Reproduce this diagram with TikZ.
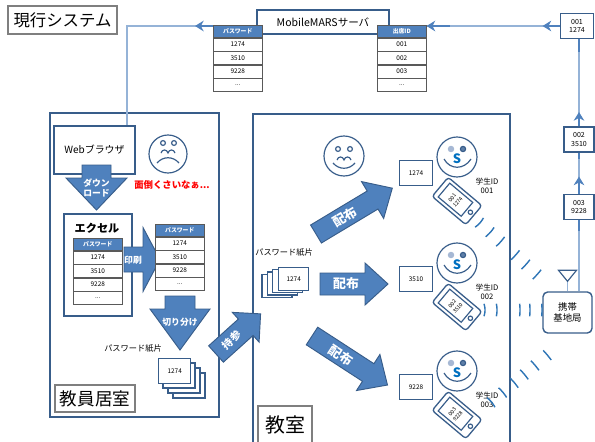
\documentclass[tikz,border=0pt]{standalone}
\usepackage{fontspec}
\setmainfont{Noto Sans CJK JP}
\usetikzlibrary{positioning,arrows.meta,calc}

\definecolor{frameblue}{RGB}{56,93,138}
\definecolor{fillblue}{RGB}{79,129,189}
\definecolor{lineblue}{RGB}{149,179,215}
\definecolor{waveblue}{RGB}{46,117,182}
\definecolor{boxgray}{RGB}{127,127,127}
\definecolor{gridgray}{RGB}{89,89,89}
\definecolor{sblue}{RGB}{0,112,192}
\definecolor{eyelight}{RGB}{166,184,212}
\definecolor{eyedark}{RGB}{95,127,168}

\newcommand{\blockarrow}[6]{%
  \begin{scope}[shift={#1},rotate=#2]
    \draw[bigarrow] (0,-#4) -- ({#3-#6},-#4) -- ({#3-#6},-#5) -- (#3,0)
      -- ({#3-#6},#5) -- ({#3-#6},#4) -- (0,#4) -- cycle;
  \end{scope}}

\newcommand{\pwtable}[6]{%
  \node[thead,anchor=north west] (#1h) at #2 {#3};
  \node[tcell,below=0pt of #1h] (#1a) {#4};
  \node[tcell,below=0pt of #1a] (#1b) {#5};
  \node[tcell,below=0pt of #1b] (#1c) {#6};
  \node[tcell,below=0pt of #1c] (#1d) {...};}

\newcommand{\wave}[4]{%
  \draw[radio,domain=#3-360/#4:#3+360/#4,samples=9,smooth,variable=\t]
    plot ({#1+#4*cos(\t)},{#2+#4*sin(\t)});}

\begin{document}
\begin{tikzpicture}[x=0.03cm,y=-0.03cm,
    boxsize/.style 2 args={minimum width={#1*0.03cm},minimum height={#2*0.03cm},inner sep=0pt},
    darkframe/.style={draw=frameblue,line width=1.6pt,fill=white},
    labelbox/.style={draw=boxgray,line width=1.1pt,fill=white},
    tagbox/.style={darkframe,boxsize={30}{25},align=center,font=\fontsize{6}{7.5}\selectfont},
    thead/.style={draw=gridgray,line width=0.5pt,fill=fillblue,text=white,boxsize={49}{12},font=\bfseries\fontsize{5}{5}\selectfont},
    tcell/.style={draw=gridgray,line width=0.5pt,fill=white,boxsize={49}{13},font=\fontsize{5.5}{5.5}\selectfont},
    bigarrow/.style={fill=fillblue,draw=frameblue,line width=0.8pt},
    arrowtext/.style={text=white,align=center,font=\bfseries\fontsize{7.5}{9}\selectfont},
    handout/.style={arrowtext,font=\bfseries\fontsize{11}{11}\selectfont},
    feedline/.style={draw=lineblue,line width=1pt},
    stub/.style={draw=fillblue,line width=2.2pt},
    stubtip/.style={-{Stealth[length=2.6mm,width=3.2mm]}},
    paper/.style={draw=frameblue,line width=1.2pt,fill=white},
    card/.style={draw=frameblue,line width=1.6pt,fill=white,boxsize={33}{25},font=\fontsize{5.5}{6}\selectfont},
    radio/.style={draw=waveblue,line width=1.2pt},
    facering/.style={draw=frameblue,line width=1pt},
    idlabel/.style={align=center,font=\fontsize{6.5}{8}\selectfont},
    phonetext/.style={align=center,font=\fontsize{4.5}{6}\selectfont},
    sadface/.pic={
      \draw[facering,fill=white] (0,0) circle (19);
      \draw[facering] (-5,-11) circle (2.4) (6,-11) circle (2.4);
      \draw[facering] (-7,-1) .. controls (-6,-5) and (-1,-5) .. (0,-1)
        .. controls (1,-5) and (6,-5) .. (7,-1);
      \draw[facering] (-11,9) .. controls (-5,2) and (5,2) .. (11,9);
    },
    calmface/.pic={
      \draw[facering,fill=white] (0,0) circle (20);
      \draw[facering] (-6,-7) circle (2.4) (6,-7) circle (2.4);
      \draw[facering] (-7,4) .. controls (-6,0) and (-1,0) .. (0,4)
        .. controls (1,0) and (6,0) .. (7,4);
      \draw[facering] (-11,7) .. controls (-5,14) and (5,14) .. (11,7);
    },
    happyface/.pic={
      \draw[facering,fill=white] (0,0) circle (20);
      \draw[facering,fill=eyelight,draw=eyelight] (-6,-8) circle (2.6);
      \draw[facering,fill=eyedark] (6,-8) circle (2.6);
      \draw[facering] (-13,2) .. controls (-7,13) and (7,13) .. (14,2);
      \node[text=sblue,font=\bfseries\fontsize{11}{11}\selectfont] (-s) at (0,2) {S};
    },
    phone/.pic={
      \draw[facering,line width=1.1pt,fill=white,rounded corners=2.5pt] (-22,-12.5) rectangle (22,12.5);
      \draw[facering] (-17,-9) rectangle (13,9);
      \draw[facering] (17.5,0) circle (2.2);
    },
  ]
  \useasboundingbox (0,0) rectangle (595,441);
  \clip (0,0) rectangle (595,441);

  \node[darkframe,boxsize={169}{304},anchor=north west] (office) at (49,112) {};
  \node[darkframe,boxsize={257}{345},anchor=north west] (classroom) at (252,113) {};

  \node[labelbox,boxsize={109}{28},font=\fontsize{14}{14}\selectfont] (title) at (62.5,20) {現行システム};
  \node[darkframe,boxsize={132}{24},font=\fontsize{9}{9}\selectfont] (server) at (323,22) {MobileMARSサーバ};
  \pwtable{pwsrv}{(213,25)}{パスワード}{1274}{3510}{9228}
  \pwtable{idsrv}{(377,25)}{出席ID}{001}{002}{003}

  \node[tagbox,boxsize={33}{25}] (id001) at (577,26) {001\\1274};
  \node[tagbox] (id002) at (579,139.5) {002\\3510};
  \node[tagbox] (id003) at (579,207) {003\\9228};
  \node[darkframe,line width=1.2pt,rounded corners=4pt,boxsize={49}{41},align=center,
    font=\fontsize{8}{10}\selectfont] (base) at (567.5,312.5) {携帯\\基地局};
  \coordinate (mast) at ($(base.north)+(0,-10)$);
  \draw[feedline] (base.north) -- (mast);
  \draw[frameblue,line width=1pt,fill=white] ($(mast)+(-9,-11)$) -- ($(mast)+(9,-11)$) -- (mast) -- cycle;

  \node[darkframe,boxsize={81}{48},font=\fontsize{8.5}{9}\selectfont] (web) at (94.5,150) {Webブラウザ};

  \draw[feedline] (pwsrvh.north west |- id001.west) -| ($(web.north east)+(-9,0)$);
  \draw[stub,stubtip] (pwsrvh.north west |- id001.west) -- ++(-18,0);
  \draw[feedline] (id001.west) -- (idsrvh.north east |- id001.west);
  \draw[stub,stubtip] ($(idsrvh.north east |- id001.west)+(23,0)$) -- (idsrvh.north east |- id001.west);
  \draw[stub,stubtip] (id001.west) -- ++(-17,0);
  \draw[feedline] (id002.north) -- (id002.north |- id001.south);
  \draw[stub] (id002.north |- id001.south) -- ++(0,13);
  \draw[stub,stubtip] (id002.north) -- ++(0,-14);
  \draw[feedline] (id003.north) -- (id002.south);
  \draw[stub] (id002.south) -- ++(0,6);
  \draw[stub,stubtip] (id003.north) -- ++(0,-17);
  \draw[feedline] (id003.south) -- (id003.south |- base.north);
  \draw[stub] (id003.south) -- ++(0,11);

  \pic at (168,154) {sadface};
  \node[text=red,font=\bfseries\fontsize{8}{9}\selectfont] (grumble) at (172,185) {面倒くさいなぁ...};
  \blockarrow{(96.5,165)}{-90}{45}{14.5}{30.5}{32}
  \node[arrowtext] (dl) at (96.5,188) {ダウン\\ロード};

  \node[darkframe,boxsize={68}{102},anchor=north west] (excel) at (63,213) {};
  \node[font=\bfseries\fontsize{9.5}{10}\selectfont] (exceltitle) at (97,228) {エクセル};
  \pwtable{pwxl}{(73,238)}{パスワード}{1274}{3510}{9228}
  \blockarrow{(124,259.5)}{0}{36}{12.5}{32}{17}
  \node[arrowtext] (prt) at (133,260) {印刷};
  \pwtable{pwprn}{(155,224)}{パスワード}{1274}{3510}{9228}

  \blockarrow{(180,296)}{-90}{54}{15}{30}{41}
  \node[arrowtext] (cut) at (180,322) {切り分け};
  \node[font=\fontsize{7}{8}\selectfont] (sliplbl) at (133,348) {パスワード紙片};
  \foreach \d in {15,10,5} {\draw[paper] (158+\d,358+\d) rectangle +(32,25);}
  \node[paper,boxsize={32}{25},font=\fontsize{5.5}{6}\selectfont,anchor=north west] (slip) at (158,358) {1274};
  \node[labelbox,boxsize={80}{27},font=\fontsize{15}{15}\selectfont] (officelbl) at (95,398.5) {教員居室};

  \blockarrow{(216,354)}{42}{60}{11}{20}{20}
  \node[arrowtext,rotate=42,font=\bfseries\fontsize{9}{9}\selectfont] (carry) at (232,340) {持参};

  \pic at (344,156) {calmface};
  \node[font=\fontsize{7}{8}\selectfont] (sliplbl2) at (284,252) {パスワード紙片};
  \foreach \d in {3,2,1} {\draw[paper] (278-5.3*\d,267+2.4*\d) rectangle +(30,23);}
  \node[paper,boxsize={30}{23},font=\fontsize{5.5}{6}\selectfont,anchor=north west] (slip2) at (278,267) {1274};
  \node[labelbox,boxsize={54}{38},font=\fontsize{17}{17}\selectfont] (classlbl) at (285,425) {教室};

  \blockarrow{(316,234)}{31}{89}{10.5}{21.5}{23}
  \node[handout,rotate=31] (dist1) at (345,217) {配布};
  \blockarrow{(320,284)}{0}{68}{11}{21}{23}
  \node[handout] (dist2) at (346,284) {配布};
  \blockarrow{(312,336)}{-33}{90}{10.5}{21.5}{23}
  \node[handout,rotate=-33] (dist3) at (341,355) {配布};

  \foreach \n/\fy/\pw in {1/157/1274,2/263/3510,3/371/9228} {
    \node[card] (card\n) at (416,\fy+16) {\pw};
    \pic (stu\n) at (457,\fy) {happyface};
    \pic[rotate=-40] at (457,\fy+44) {phone};
    \node[phonetext,rotate=50] (ph\n) at (455,\fy+43) {00\n\\\pw};
    \node[idlabel] (sid\n) at (487,\fy+29) {学生ID\\00\n};
  }

  \foreach \r in {24,38,52,72,86,101} {\wave{462}{207}{42}{\r}}
  \foreach \r in {19,31,54,64,76} {\wave{466}{310}{0}{\r}}
  \foreach \r in {28,43,58,71,85,101} {\wave{470}{420}{-40}{\r}}
\end{tikzpicture}
\end{document}
